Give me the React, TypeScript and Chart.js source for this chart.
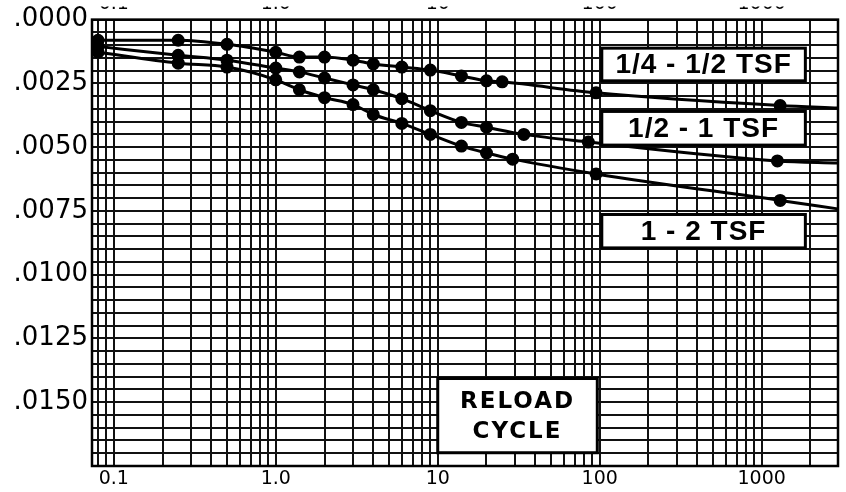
import React, { useEffect, useRef } from "react";
import { Chart, registerables } from "chart.js";

Chart.register(...registerables);

// ---- axis tick labels ----
const xDecadeValues = [0.1, 1, 10, 100, 1000];
const xDecadeLabels = ["0.1", "1.0", "10", "100", "1000"];
const yLabelValues = [0, 0.0025, 0.005, 0.0075, 0.01, 0.0125, 0.015];
const yGridStep = 0.0005;
const xMin = 0.0734;
const xMax = 2958;
const yMin = 0;
const yMax = 0.0175;

// ---- series: elapsed time (min) and dial reading ----
const seriesNames = ["1/4 - 1/2 TSF", "1/2 - 1 TSF", "1 - 2 TSF"];

const timesQuarterHalf = [0.08, 0.25, 0.5, 1, 1.4, 2, 3, 4, 6, 9, 14, 20, 25, 95, 1300, 2950];
const readingsQuarterHalf = [0.00081, 0.00081, 0.00097, 0.00128, 0.00147, 0.00147, 0.00159, 0.00174, 0.00186, 0.00198, 0.00221, 0.0024, 0.00244, 0.00287, 0.00337, 0.00347];

const timesHalfOne = [0.08, 0.25, 0.5, 1, 1.4, 2, 3, 4, 6, 9, 14, 20, 34, 85, 1250, 2950];
const readingsHalfOne = [0.00105, 0.0014, 0.00159, 0.0019, 0.00205, 0.00229, 0.00256, 0.00275, 0.0031, 0.00357, 0.00403, 0.00422, 0.0045, 0.0048, 0.00554, 0.00562];

const timesOneTwo = [0.08, 0.25, 0.5, 1, 1.4, 2, 3, 4, 6, 9, 14, 20, 29, 95, 1300, 2950];
const readingsOneTwo = [0.00128, 0.00171, 0.00186, 0.00236, 0.00275, 0.00306, 0.00333, 0.00372, 0.00407, 0.0045, 0.00496, 0.00523, 0.00547, 0.00605, 0.00709, 0.00742];

// ---- text boxes on the sheet (data coordinates) ----
const boxTexts = [["1/4 - 1/2 TSF"], ["1/2 - 1 TSF"], ["1 - 2 TSF"], ["RELOAD", "CYCLE"]];
const boxPlacement = [
  { x0: 103, x1: 1860, y0: 0.00112, y1: 0.0024 },
  { x0: 103, x1: 1860, y0: 0.0036, y1: 0.00492 },
  { x0: 103, x1: 1860, y0: 0.00764, y1: 0.00895 },
  { x0: 10, x1: 96.6, y0: 0.01407, y1: 0.01698 },
];

function buildLogTicks(min: number, max: number) {
  const out: { value: number }[] = [];
  for (let e = -2; e <= 4; e++) {
    for (let m = 1; m <= 9; m++) {
      const v = parseFloat((m * Math.pow(10, e)).toPrecision(6));
      if (v >= min && v <= max) out.push({ value: v });
    }
  }
  return out;
}

function decadeLabel(value: number) {
  for (let i = 0; i < xDecadeValues.length; i++) {
    if (Math.abs(value - xDecadeValues[i]) / xDecadeValues[i] < 1e-6) return xDecadeLabels[i];
  }
  return "";
}

function yLabel(value: number) {
  for (const v of yLabelValues) {
    if (Math.abs(value - v) < 1e-9) return "." + v.toFixed(4).split(".")[1];
  }
  return "";
}

function makeSeries(times: number[], readings: number[]) {
  return times.map((t, i) => ({ x: t, y: readings[i] }));
}

const sheetPlugin = {
  id: "sheet",
  beforeDraw(chart: any) {
    const { ctx } = chart;
    ctx.save();
    ctx.fillStyle = "#ffffff";
    ctx.fillRect(0, 0, chart.width, chart.height);
    ctx.restore();
  },
  beforeDatasetsDraw(chart: any) {
    const { ctx, chartArea } = chart;
    ctx.save();
    ctx.strokeStyle = "#000";
    ctx.lineWidth = 2.5;
    ctx.strokeRect(chartArea.left, chartArea.top, chartArea.right - chartArea.left, chartArea.bottom - chartArea.top);
    ctx.restore();
  },
  afterDatasetsDraw(chart: any) {
    const { ctx } = chart;
    const xs = chart.scales.x;
    const ys = chart.scales.y;
    ctx.save();
    boxPlacement.forEach((b, i) => {
      const l = xs.getPixelForValue(b.x0);
      const r = xs.getPixelForValue(b.x1);
      const t = ys.getPixelForValue(b.y0);
      const btm = ys.getPixelForValue(b.y1);
      ctx.fillStyle = "#fff";
      ctx.fillRect(l, t, r - l, btm - t);
      ctx.strokeStyle = "#000";
      ctx.lineWidth = 3;
      ctx.strokeRect(l, t, r - l, btm - t);
      const lines = boxTexts[i];
      const multi = lines.length > 1;
      ctx.fillStyle = "#000";
      ctx.textAlign = "center";
      ctx.textBaseline = "middle";
      ctx.font = multi ? "bold 23px 'DejaVu Sans'" : "bold 28px 'Liberation Sans'";
      try { (ctx as any).letterSpacing = multi ? "2px" : "1px"; } catch (e) {}
      const cx = (l + r) / 2;
      const cy = (t + btm) / 2;
      const lh = 30;
      lines.forEach((s, k) => {
        ctx.fillText(s, cx, cy + (k - (lines.length - 1) / 2) * lh + 1);
      });
    });
    ctx.restore();
  },
};

export default function App() {
  const ref = useRef<HTMLCanvasElement>(null);
  useEffect(() => {
    if (!ref.current) return;
    const lineStyle = {
      borderColor: "#000",
      backgroundColor: "#000",
      borderWidth: 3,
      pointBackgroundColor: "#000",
      pointBorderColor: "#000",
      cubicInterpolationMode: "monotone" as const,
      fill: false,
    };
    const radii = (n: number) => Array.from({ length: n }, (_, i) => (i === n - 1 ? 0 : 5));
    const chart = new Chart(ref.current, {
      type: "line",
      data: {
        datasets: [
          { label: seriesNames[0], data: makeSeries(timesQuarterHalf, readingsQuarterHalf), pointRadius: radii(timesQuarterHalf.length), ...lineStyle },
          { label: seriesNames[1], data: makeSeries(timesHalfOne, readingsHalfOne), pointRadius: radii(timesHalfOne.length), ...lineStyle },
          { label: seriesNames[2], data: makeSeries(timesOneTwo, readingsOneTwo), pointRadius: radii(timesOneTwo.length), ...lineStyle },
        ],
      },
      options: {
        responsive: false,
        animation: false,
        devicePixelRatio: 1,
        layout: { padding: { left: 0, right: 1, top: 0, bottom: 0 } },
        plugins: { legend: { display: false }, tooltip: { enabled: false } },
        scales: {
          x: {
            type: "logarithmic",
            position: "bottom",
            min: xMin,
            max: xMax,
            afterBuildTicks: (s: any) => { s.ticks = buildLogTicks(xMin, xMax); },
            afterFit: (s: any) => { s.height = 26; },
            grid: { color: "#111", lineWidth: 2, drawTicks: false },
            border: { display: false },
            ticks: {
              autoSkip: false,
              maxRotation: 0,
              padding: 2,
              color: "#000",
              font: { family: "DejaVu Sans", size: 19 },
              callback: (v: any) => decadeLabel(Number(v)),
            },
          },
          x2: {
            type: "logarithmic",
            position: "top",
            min: xMin,
            max: xMax,
            afterBuildTicks: (s: any) => { s.ticks = xDecadeValues.map((v) => ({ value: v })); },
            afterFit: (s: any) => { s.height = 13; },
            grid: { display: false, drawTicks: false },
            border: { display: false },
            ticks: {
              autoSkip: false,
              maxRotation: 0,
              padding: 4,
              color: "#000",
              font: { family: "DejaVu Sans", size: 19 },
              callback: (v: any) => decadeLabel(Number(v)),
            },
          },
          y: {
            type: "linear",
            reverse: true,
            min: yMin,
            max: yMax,
            afterBuildTicks: (s: any) => {
              const t: { value: number }[] = [];
              const n = Math.round((yMax - yMin) / yGridStep);
              for (let i = 0; i <= n; i++) t.push({ value: parseFloat((yMin + i * yGridStep).toFixed(5)) });
              s.ticks = t;
            },
            afterFit: (s: any) => { s.width = 92; },
            grid: { color: "#111", lineWidth: 2, drawTicks: false },
            border: { display: false },
            ticks: {
              autoSkip: false,
              padding: 4,
              color: "#000",
              font: { family: "DejaVu Sans", size: 26 },
              callback: (v: any) => yLabel(Number(v)),
            },
          },
        },
      } as any,
      plugins: [sheetPlugin],
    });
    return () => chart.destroy();
  }, []);
  return (
    <div style={{ position: "absolute", left: 0, top: 0, width: 846, height: 492, background: "#fff" }}>
      <canvas ref={ref} width={846} height={492} style={{ display: "block", width: 846, height: 492 }} />
    </div>
  );
}
